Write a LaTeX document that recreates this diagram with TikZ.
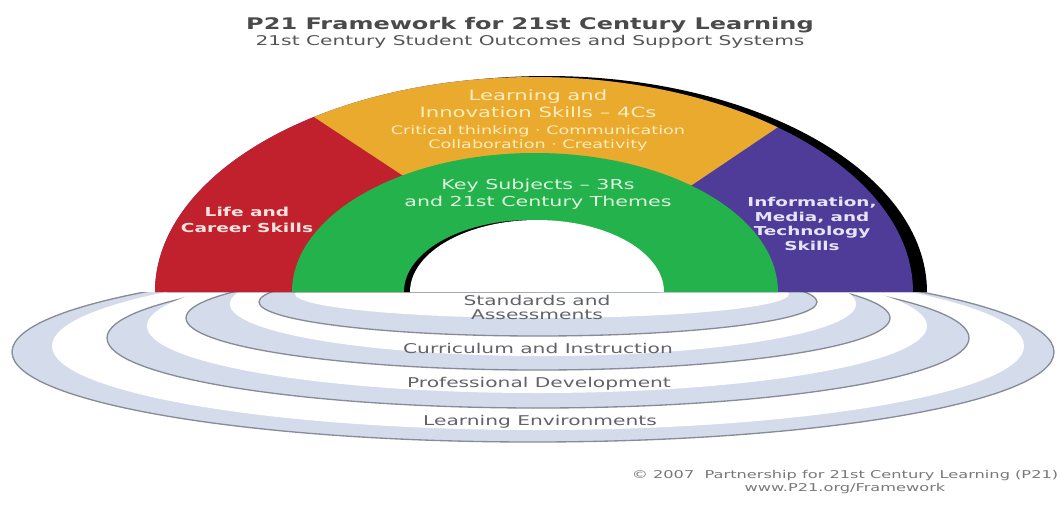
\documentclass[tikz,border=0pt]{standalone}
\usepackage{fontspec}
\setmainfont[FakeStretch=1.5]{DejaVu Sans}
\usetikzlibrary{calc}

\tikzset{every picture/.style={line width=0.75pt}}

\begin{document}
\begin{tikzpicture}[x=0.75pt,y=0.75pt,yscale=-1,xscale=1,
    band/.style={fill={rgb, 255:red, 212; green, 219; blue, 235 }, draw={rgb, 255:red, 136; green, 140; blue, 152 }, line width=1},
    gap/.style={fill=white},
    lifered/.style={fill={rgb, 255:red, 193; green, 33; blue, 45 }},
    skillyellow/.style={fill={rgb, 255:red, 234; green, 170; blue, 46 }},
    subjgreen/.style={fill={rgb, 255:red, 35; green, 178; blue, 76 }},
    ictpurple/.style={fill={rgb, 255:red, 78; green, 60; blue, 152 }},
    bowtext/.style={inner sep=0.75pt, align=center},
    ringtext/.style={inner sep=0.75pt, align=center, color={rgb, 255:red, 98; green, 98; blue, 104 }, font=\fontsize{10.1}{10.5}\selectfont}]

    \useasboundingbox (0,0) rectangle (1057,508);

    % support systems: only the lower halves of the rings show
    \begin{scope}
      \clip (0,292) rectangle (1057,508);
      %Shape: Ellipse ring 4
      \draw [band] (533,352) ellipse (521 and 90);
      \fill [gap] (538,346) ellipse (486 and 84);
      %Shape: Ellipse ring 3
      \draw [band] (538,338) ellipse (431 and 70);
      \fill [gap] (537,326) ellipse (390 and 67);
      %Shape: Ellipse ring 2
      \draw [band] (538,318) ellipse (352 and 52);
      \fill [gap] (543,304) ellipse (313 and 52);
      %Shape: Ellipse ring 1
      \draw [band] (538,302) ellipse (279 and 34);
      \fill [gap] (542,294) ellipse (247 and 24);
    \end{scope}

    %Shape: Arc shadow behind the bow
    \fill [black] (167,292) arc [start angle=180, end angle=360, x radius=380, y radius=216] -- cycle;
    %Shape: Arc purple
    \fill [ictpurple] (155,292) arc [start angle=180, end angle=360, x radius=379, y radius=215] -- cycle;
    %Shape: Arc red
    \fill [lifered] (155,292) arc [start angle=180, end angle=234.5, x radius=379, y radius=215] -- ($(535,292)+(237:243 and 139)$) -- (535,292) -- cycle;
    %Shape: Arc yellow
    \fill [skillyellow] ($(534,292)+(234.5:379 and 215)$) arc [start angle=234.5, end angle=310, x radius=379, y radius=215] -- ($(535,292)+(310:243 and 139)$) -- (535,292) -- ($(535,292)+(237:243 and 139)$) -- cycle;
    %Shape: Arc green
    \fill [subjgreen] (292,292) arc [start angle=180, end angle=360, x radius=243, y radius=139] -- cycle;
    %Shape: Arc hole and its shadow
    \fill [black] (404,292) arc [start angle=180, end angle=360, x radius=127, y radius=72] -- cycle;
    \fill [white] (410,292) arc [start angle=180, end angle=360, x radius=127, y radius=72] -- cycle;

    % Text Node
    \draw (530,25) node (title) [inner sep=0.75pt, color={rgb, 255:red, 74; green, 74; blue, 74 }, font=\bfseries\fontsize{12}{14}\selectfont] {P21 Framework for 21st Century Learning};
    % Text Node
    \draw (530,42) node (subtitle) [inner sep=0.75pt, color={rgb, 255:red, 85; green, 85; blue, 85 }, font=\fontsize{10.1}{12}\selectfont] {21st Century Student Outcomes and Support Systems};
    % Text Node
    \draw (538,104) node (fourcs) [bowtext, color={rgb, 255:red, 253; green, 236; blue, 190 }, font=\fontsize{10.6}{12.75}\selectfont] {Learning and\\Innovation Skills – 4Cs};
    % Text Node
    \draw (538,138) node (fourcsub) [bowtext, color={rgb, 255:red, 253; green, 236; blue, 190 }, font=\fontsize{8.8}{10.5}\selectfont] {Critical thinking · Communication\\Collaboration · Creativity};
    % Text Node
    \draw (538,194) node (threers) [bowtext, color={rgb, 255:red, 222; green, 244; blue, 222 }, font=\fontsize{10.3}{12.75}\selectfont] {Key Subjects – 3Rs\\and 21st Century Themes};
    % Text Node
    \draw (247,220) node (life) [bowtext, color={rgb, 255:red, 250; green, 226; blue, 222 }, font=\bfseries\fontsize{9.3}{12}\selectfont] {Life and\\Career Skills};
    % Text Node
    \draw (812,224) node (imt) [bowtext, color={rgb, 255:red, 232; green, 228; blue, 248 }, font=\bfseries\fontsize{9.2}{11}\selectfont] {Information,\\Media, and\\Technology\\Skills};
    % Text Node
    \draw (537,307) node (standards) [ringtext] {Standards and\\Assessments};
    % Text Node
    \draw (538,348) node (curriculum) [ringtext] {Curriculum and Instruction};
    % Text Node
    \draw (539,384) node (profdev) [ringtext] {Professional Development};
    % Text Node
    \draw (540,422) node (learnenv) [ringtext] {Learning Environments};
    % Text Node
    \draw (845,482) node (credit) [inner sep=0.75pt, align=center, color={rgb, 255:red, 120; green, 120; blue, 120 }, font=\fontsize{8.1}{10}\selectfont] {© 2007\ \ Partnership for 21st Century Learning (P21)\\www.P21.org/Framework};

\end{tikzpicture}
\end{document}
